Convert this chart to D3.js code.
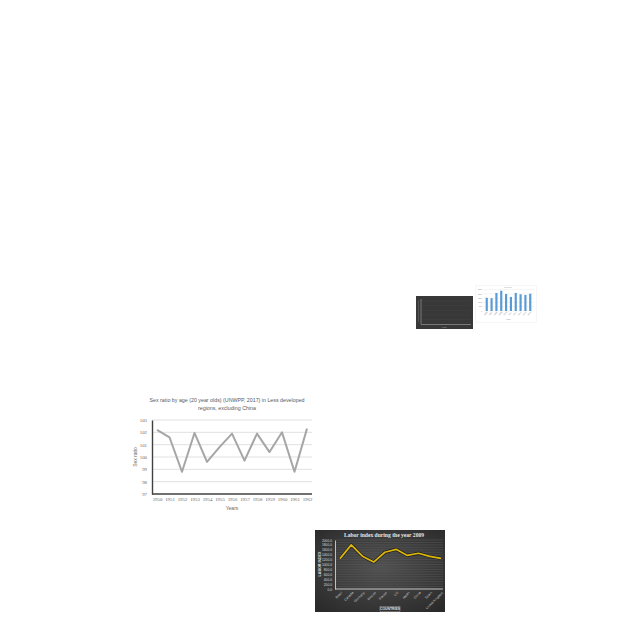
<!DOCTYPE html>
<html><head><meta charset="utf-8">
<script src="https://cdn.jsdelivr.net/npm/d3@7"></script>
<style>html,body{margin:0;padding:0;background:#fff}svg{display:block}</style>
</head><body>
<script>
// ---- Data: sex ratio chart ----
const sexYears = ["1950","1951","1952","1953","1954","1955","1956","1957","1958","1959","1960","1961","1962"];
const sexRatio = [102.2,101.6,98.8,101.95,99.6,100.8,101.9,99.7,101.9,100.4,102.0,98.8,102.3];
const sexTicks = [97,98,99,100,101,102,103];
const sexTitle = ["Sex ratio by age (20 year olds) (UNWPP, 2017) in Less developed","regions, excluding China"];

// ---- Data: labor index chart ----
const laborCountries = ["Brazil","Canada","Germany","Mexico","France","US","Japan","China","Spain","United Kingdom"];
const laborIndex = [1240,1800,1340,1100,1500,1620,1370,1460,1330,1250];
const laborTicks = [0,200,400,600,800,1000,1200,1400,1600,1800,2000];
const laborTitle = "Labor index during the year 2009";

// ---- Data: small bar chart ----
const barCats = ["2006","2007","2008","2009","2010","2011","2012","2013","2014","2015"];
const barVals = [1550,1500,2120,2380,2000,1650,2120,1960,1880,2030];
const barTicks = [0,500,1000,1500,2000,2500];

const svg = d3.select("body").append("svg").attr("width",640).attr("height",640);
svg.append("rect").attr("width",640).attr("height",640).attr("fill","#fff");

// ================= Sex ratio chart =================
(function(){
  const g = svg.append("g");
  const x = d3.scalePoint().domain(sexYears).range([157,307]);
  const y = d3.scaleLinear().domain([97,103]).range([494,420]);
  g.selectAll("text.t").data(sexTitle).join("text")
    .attr("x",227).attr("y",(d,i)=>402+i*8).attr("text-anchor","middle")
    .attr("font-family","Liberation Sans, sans-serif").attr("font-size",5.3).attr("fill","#595959").text(d=>d);
  g.selectAll("line.grid").data(sexTicks.slice(1)).join("line")
    .attr("x1",152).attr("x2",312).attr("y1",d=>y(d)).attr("y2",d=>y(d))
    .attr("stroke","#d9d9d9").attr("stroke-width",0.8);
  const ya = g.append("g").attr("transform","translate(152,0)")
    .call(d3.axisLeft(y).tickValues(sexTicks).tickSize(0).tickPadding(5).tickFormat(d3.format("d")));
  ya.select(".domain").attr("stroke","#404040").attr("stroke-width",1.4);
  ya.selectAll("text").attr("font-family","Liberation Serif, serif").attr("font-size",4.8).attr("fill","#666");
  const xa = g.append("g").attr("transform","translate(0,494)")
    .call(d3.axisBottom(x).tickSize(0).tickPadding(4));
  xa.select(".domain").attr("d","M152,0H312").attr("stroke","#404040").attr("stroke-width",1.4);
  xa.selectAll("text").attr("font-family","Liberation Serif, serif").attr("font-size",4.8).attr("fill","#666");
  g.append("path").datum(sexRatio)
    .attr("d",d3.line().x((d,i)=>x(sexYears[i])).y(d=>y(d)))
    .attr("fill","none").attr("stroke","#a6a6a6").attr("stroke-width",2).attr("stroke-linejoin","round");
  g.append("text").attr("transform","translate(137,457) rotate(-90)").attr("text-anchor","middle")
    .attr("font-family","Liberation Sans, sans-serif").attr("font-size",5).attr("fill","#666").text("Sex ratio");
  g.append("text").attr("x",232).attr("y",510).attr("text-anchor","middle")
    .attr("font-family","Liberation Sans, sans-serif").attr("font-size",5).attr("fill","#666").text("Years");
})();

// ================= Labor index chart =================
(function(){
  const defs = svg.append("defs");
  const rg = defs.append("radialGradient").attr("id","darkbg").attr("cx","50%").attr("cy","45%").attr("r","70%");
  rg.append("stop").attr("offset","0%").attr("stop-color","#505050");
  rg.append("stop").attr("offset","100%").attr("stop-color","#2a2a2a");
  const g = svg.append("g");
  g.append("rect").attr("x",315).attr("y",530).attr("width",130).attr("height",82).attr("fill","url(#darkbg)");
  const x = d3.scalePoint().domain(laborCountries).range([340,441]);
  const y = d3.scaleLinear().domain([0,2000]).range([589,540]);
  g.selectAll("line.grid").data(d3.range(0,2001,100)).join("line")
    .attr("x1",335).attr("x2",443).attr("y1",d=>y(d)).attr("y2",d=>y(d))
    .attr("stroke","#5c5c5c").attr("stroke-width",0.5);
  g.append("text").attr("x",384).attr("y",537).attr("text-anchor","middle")
    .attr("font-family","Liberation Serif, serif").attr("font-weight","bold").attr("font-size",5.6).attr("fill","#e6e6e6").text(laborTitle);
  const ya = g.append("g").attr("transform","translate(335,0)")
    .call(d3.axisLeft(y).tickValues(laborTicks).tickSize(0).tickPadding(3).tickFormat(d3.format(".1f")));
  ya.select(".domain").attr("stroke","#cfcfcf").attr("stroke-width",0.9);
  ya.selectAll("text").attr("font-family","Liberation Sans, sans-serif").attr("font-size",3.3).attr("fill","#d8d8d8");
  const xa = g.append("g").attr("transform","translate(0,589)")
    .call(d3.axisBottom(x).tickSize(0).tickPadding(0));
  xa.select(".domain").attr("d","M335,0H443").attr("stroke","#cfcfcf").attr("stroke-width",0.9);
  xa.selectAll("text").attr("font-family","Liberation Sans, sans-serif").attr("font-size",3.3).attr("fill","#c8c8c8")
    .attr("text-anchor","end").attr("dy",null).attr("y",0).attr("transform","translate(2,4) rotate(-45)");
  const line = d3.line().x((d,i)=>x(laborCountries[i])).y(d=>y(d));
  g.append("path").datum(laborIndex).attr("d",line).attr("fill","none").attr("stroke","#1a1a1a").attr("stroke-width",3).attr("stroke-linejoin","round");
  g.append("path").datum(laborIndex).attr("d",line).attr("fill","none").attr("stroke","#dcb80c").attr("stroke-width",1.7).attr("stroke-linejoin","round");
  g.append("text").attr("transform","translate(321,564) rotate(-90)").attr("text-anchor","middle")
    .attr("font-family","Liberation Sans, sans-serif").attr("font-weight","bold").attr("font-size",3.6).attr("fill","#e0e0e0").text("LABOR INDEX");
  g.append("rect").attr("x",380).attr("y",606.5).attr("width",20).attr("height",5).attr("fill","none").attr("stroke","#bbb").attr("stroke-width",0.4);
  g.append("text").attr("x",390).attr("y",610.2).attr("text-anchor","middle")
    .attr("font-family","Liberation Sans, sans-serif").attr("font-weight","bold").attr("font-size",3.4).attr("fill","#e0e0e0").text("COUNTRIES");
})();

// ================= Small dark chart (thumbnail) =================
(function(){
  const g = svg.append("g");
  g.append("rect").attr("x",416).attr("y",296).attr("width",57).attr("height",33).attr("fill","#383838");
  const y = d3.scaleLinear().domain([0,5]).range([324,301]);
  g.selectAll("line.grid").data(d3.range(1,6)).join("line")
    .attr("x1",421).attr("x2",471).attr("y1",d=>y(d)).attr("y2",d=>y(d)).attr("stroke","#444").attr("stroke-width",0.5);
  g.append("line").attr("x1",421).attr("x2",421).attr("y1",299).attr("y2",324.5).attr("stroke","#8a8a8a").attr("stroke-width",0.8);
  g.append("line").attr("x1",421).attr("x2",471).attr("y1",324.5).attr("y2",324.5).attr("stroke","#8a8a8a").attr("stroke-width",0.8);
  g.append("line").attr("x1",418.5).attr("x2",418.5).attr("y1",300).attr("y2",322).attr("stroke","#5a5a5a").attr("stroke-width",0.8);
  g.append("text").attr("x",444).attr("y",328).attr("text-anchor","middle").attr("font-family","Liberation Sans, sans-serif")
    .attr("font-size",2).attr("fill","#aaa").text("Years");
})();

// ================= Small bar chart (thumbnail) =================
(function(){
  const g = svg.append("g");
  g.append("rect").attr("x",475.5).attr("y",285.5).attr("width",61).attr("height",37).attr("fill","#fff").attr("stroke","#eeeeee").attr("stroke-width",0.5);
  const x = d3.scaleBand().domain(barCats).range([483,534]).padding(0.55);
  const y = d3.scaleLinear().domain([0,2500]).range([311,289.7]);
  g.selectAll("line.grid").data(barTicks).join("line")
    .attr("x1",483).attr("x2",534).attr("y1",d=>y(d)).attr("y2",d=>y(d)).attr("stroke","#e4e4e4").attr("stroke-width",0.4);
  g.selectAll("rect.bar").data(barVals).join("rect")
    .attr("x",(d,i)=>x(barCats[i])).attr("width",x.bandwidth())
    .attr("y",d=>y(d)).attr("height",d=>y(0)-y(d)).attr("fill","#5b9bd5");
  g.selectAll("text.yt").data(barTicks).join("text")
    .attr("x",482).attr("y",d=>y(d)+0.6).attr("text-anchor","end").attr("font-family","Liberation Sans, sans-serif")
    .attr("font-size",1.8).attr("fill","#888").text(d=>d);
  g.selectAll("text.xt").data(barCats).join("text")
    .attr("transform",(d)=>`translate(${x(d)+x.bandwidth()/2+1},${312.5}) rotate(-45)`).attr("text-anchor","end")
    .attr("font-family","Liberation Sans, sans-serif").attr("font-size",1.9).attr("fill","#888").text(d=>d);
  g.append("text").attr("x",508).attr("y",320).attr("text-anchor","middle").attr("font-family","Liberation Sans, sans-serif")
    .attr("font-size",1.9).attr("fill","#888").text("Years");
  g.append("text").attr("x",508).attr("y",287.8).attr("text-anchor","middle").attr("font-family","Liberation Sans, sans-serif")
    .attr("font-size",1.8).attr("fill","#aaa").text("Chart Title");
})();
</script>
</body></html>
